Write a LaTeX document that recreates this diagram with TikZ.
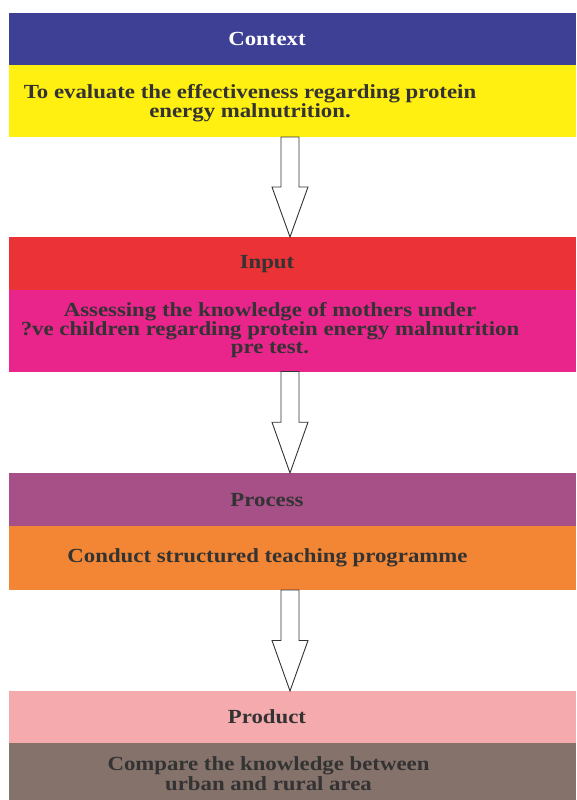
\documentclass[tikz,border=0pt]{standalone}
\usepackage{fontspec}
\setmainfont{Liberation Serif}[FakeStretch=1.14]
\usetikzlibrary{calc}
\definecolor{cblue}{HTML}{3E4095}
\definecolor{cyellow}{HTML}{FFF012}
\definecolor{cred}{HTML}{EA3237}
\definecolor{cmagenta}{HTML}{E9258C}
\definecolor{cpurple}{HTML}{A65087}
\definecolor{corange}{HTML}{F38634}
\definecolor{cpink}{HTML}{F5AAAD}
\definecolor{cbrown}{HTML}{85726B}
\definecolor{ctext}{HTML}{333333}
\definecolor{cline}{HTML}{333333}
\tikzset{
  band/.style={rectangle, draw=none, inner sep=0pt, outer sep=0pt, anchor=north west, minimum width=567pt},
  lbl/.style={inner sep=0pt, outer sep=0pt, text=ctext, font=\bfseries\fontsize{20}{18}\selectfont, align=center},
  barrow/.style={draw=cline, fill=white, line width=0.9pt, line join=miter},
}
\newcommand\blockarrow[2]{%
  \draw[barrow] let \p1=(#1), \p2=(#2) in
    (\x1-9pt,\y1) -- (\x1+9pt,\y1) -- (\x1+9pt,{(\y1+\y2)/2}) -- (\x1+18pt,{(\y1+\y2)/2})
    -- (\x2,\y2) -- (\x1-18pt,{(\y1+\y2)/2}) -- (\x1-9pt,{(\y1+\y2)/2}) -- cycle;}
\begin{document}
\begin{tikzpicture}[x=1pt,y=-1pt]
\useasboundingbox (0,0) rectangle (576,800);
\coordinate (axis) at (290,0);
% bands
\node[band, fill=cblue,    minimum height=52pt]   (ctxh) at (9,13)  {};
\node[band, fill=cyellow,  minimum height=72pt]   (ctxb) at (9,65)  {};
\node[band, fill=cred,     minimum height=53pt]   (inh)  at (9,237) {};
\node[band, fill=cmagenta, minimum height=81.5pt] (inb)  at (9,290) {};
\node[band, fill=cpurple,  minimum height=53pt]   (prh)  at (9,473) {};
\node[band, fill=corange,  minimum height=64pt]   (prb)  at (9,526) {};
\node[band, fill=cpink,    minimum height=52pt]   (pdh)  at (9,691) {};
\node[band, fill=cbrown,   minimum height=57pt]   (pdb)  at (9,743) {};
% labels
\node[lbl, anchor=base, text=white] (tctx) at (267,46) {Context};
\node[lbl] (tctxb) at (250,103.3) {To evaluate the effectiveness regarding protein\\energy malnutrition.};
\node[lbl, anchor=base] (tin) at (267,268) {Input};
\node[lbl] (tinb) at (270,330.3) {Assessing the knowledge of mothers under\\?ve children regarding protein energy malnutrition\\pre test.};
\node[lbl, anchor=base] (tpr) at (267,506) {Process};
\node[lbl, anchor=base] (tprb) at (267.5,562) {Conduct structured teaching programme};
\node[lbl, anchor=base] (tpd) at (267,723) {Product};
\node[lbl, font=\bfseries\fontsize{20}{20}\selectfont] (tpdb) at (268.5,774.1) {Compare the knowledge between\\urban and rural area};
% arrows
\coordinate (a1s) at (ctxb.south -| axis);
\coordinate (a1e) at (inh.north -| axis);
\coordinate (a2s) at (inb.south -| axis);
\coordinate (a2e) at (prh.north -| axis);
\coordinate (a3s) at (prb.south -| axis);
\coordinate (a3e) at (pdh.north -| axis);
\blockarrow{a1s}{a1e}
\blockarrow{a2s}{a2e}
\blockarrow{a3s}{a3e}
\end{tikzpicture}
\end{document}
